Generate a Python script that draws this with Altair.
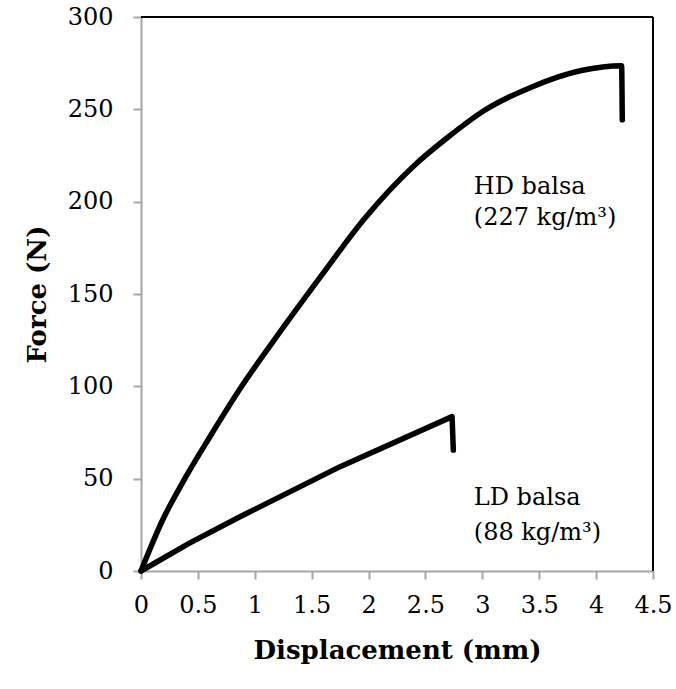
import altair as alt
import pandas as pd

# HD balsa (227 kg/m3)
hd_disp = [0, 0.19, 0.385, 0.606, 0.885, 1.17, 1.58, 1.96, 2.40, 2.70, 3.02, 3.43, 3.87, 4.224, 4.23]
hd_force = [0, 27.6, 50, 72.7, 100, 125, 159.5, 190.5, 219.5, 235, 249.5, 262, 271, 273.6, 244.3]

# LD balsa (88 kg/m3)
ld_disp = [0, 0.43, 0.87, 1.75, 2.734, 2.745]
ld_force = [0, 15.2, 29.4, 56.5, 83.6, 65.5]

label_text = ["HD balsa", "(227 kg/m³)", "LD balsa", "(88 kg/m³)"]
label_x = [2.925, 2.925, 2.925, 2.925]
label_y = [204.2, 187.4, 35.8, 16.8]

x_ticks = [0, 0.5, 1, 1.5, 2, 2.5, 3, 3.5, 4, 4.5]
y_ticks = [0, 50, 100, 150, 200, 250, 300]

rows = []
for i, (x, y) in enumerate(zip(hd_disp, hd_force)):
    rows.append({"series": "HD", "disp": x, "force": y, "ord": i})
for i, (x, y) in enumerate(zip(ld_disp, ld_force)):
    rows.append({"series": "LD", "disp": x, "force": y, "ord": i})
df = pd.DataFrame(rows)
labels = pd.DataFrame({"text": label_text, "x": label_x, "y": label_y})

W, H = 512, 554
FONT = "DejaVu Serif"
GRAY = "#a6a6a6"

xscale = alt.Scale(domain=[0, 4.5], nice=False, zero=False)
yscale = alt.Scale(domain=[0, 300], nice=False)

x_enc = alt.X("disp:Q", scale=xscale,
              axis=alt.Axis(title="Displacement (mm)", values=x_ticks, grid=False,
                            format="~g",
                            domainColor=GRAY, domainWidth=2, tickColor=GRAY, tickWidth=2,
                            tickSize=8, labelPadding=14, labelFontSize=24, labelFont=FONT,
                            labelColor="black", titleFont=FONT, titleFontSize=26,
                            titleFontWeight="bold", titleColor="black", titlePadding=20,
                            labelFlush=False))
y_enc = alt.Y("force:Q", scale=yscale,
              axis=alt.Axis(title="Force (N)", values=y_ticks, grid=False,
                            domainColor=GRAY, domainWidth=2, tickColor=GRAY, tickWidth=2,
                            tickSize=8, labelPadding=20, labelFontSize=24, labelFont=FONT,
                            labelColor="black", titleFont=FONT, titleFontSize=26,
                            titleFontWeight="bold", titleColor="black", titlePadding=17))

base = alt.Chart(df).encode(x=x_enc, y=y_enc, detail="series:N", order="ord:Q")

hd_line = base.transform_filter(alt.datum.series == "HD").mark_line(
    color="black", strokeWidth=5.5, strokeCap="round", strokeJoin="round",
    interpolate="monotone"
)
ld_line = base.transform_filter(alt.datum.series == "LD").mark_line(
    color="black", strokeWidth=5.5, strokeCap="round", strokeJoin="round",
    interpolate="linear"
)

text = alt.Chart(labels).mark_text(
    align="left", baseline="alphabetic", font=FONT, fontSize=24, color="black"
).encode(
    x=alt.X("x:Q", scale=xscale),
    y=alt.Y("y:Q", scale=yscale),
    text="text:N",
)

top_rule = alt.Chart(labels).mark_rule(color="black", strokeWidth=2).encode(
    x=alt.value(0), x2=alt.value(W), y=alt.value(0)
)
right_rule = alt.Chart(labels).mark_rule(color="black", strokeWidth=2).encode(
    x=alt.value(W), y=alt.value(0), y2=alt.value(H)
)

chart = alt.layer(top_rule, right_rule, hd_line, ld_line, text).properties(
    width=W, height=H,
    autosize=alt.AutoSizeParams(type="none"),
    padding={"left": 141, "top": 17, "right": 23, "bottom": 118},
).configure_view(stroke=None).configure(background="white")

chart.save("out.html", embed_options={"renderer": "svg", "actions": False})
